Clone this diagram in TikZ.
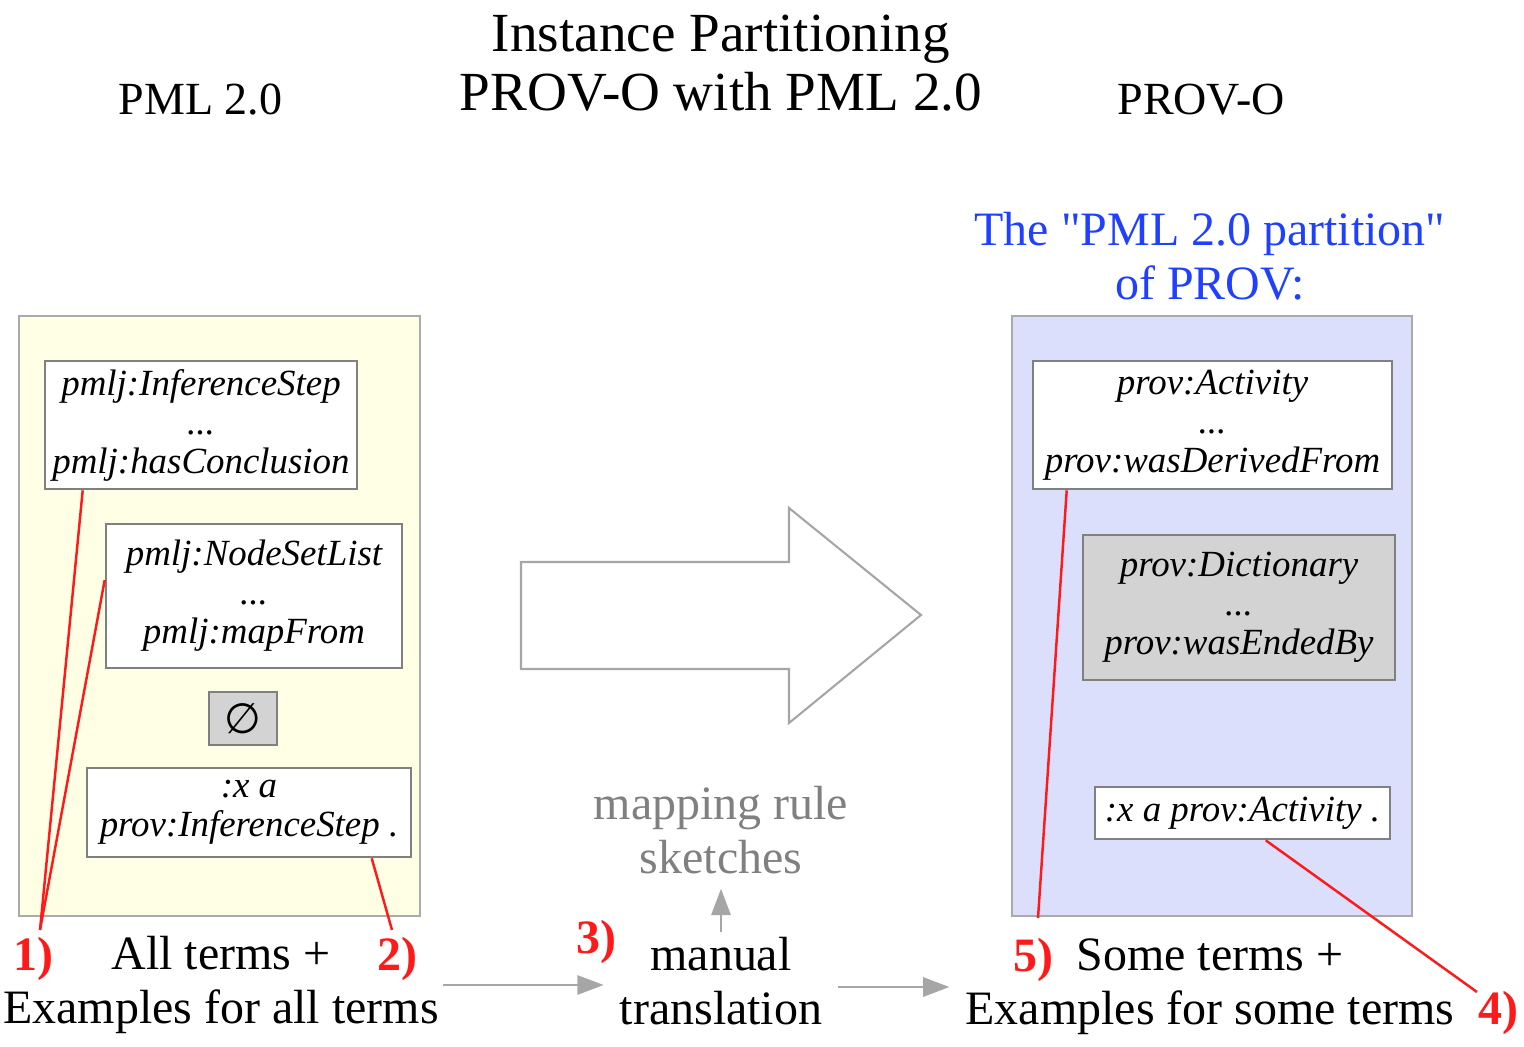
\documentclass[tikz,border=0pt]{standalone}
\usepackage{fontspec}
\setmainfont{Liberation Serif}
\newfontfamily\symfont{DejaVu Sans}
\usetikzlibrary{arrows.meta,calc}

\definecolor{pmlyellow}{RGB}{255,255,229}
\definecolor{provblue}{RGB}{220,223,252}
\definecolor{framegray}{RGB}{170,170,170}
\definecolor{boxgray}{RGB}{128,128,128}
\definecolor{fillgray}{RGB}{211,211,211}
\definecolor{arrowgray}{RGB}{166,166,166}
\definecolor{notered}{RGB}{255,26,26}
\definecolor{titleblue}{RGB}{32,64,255}

\newcommand{\pxu}{0.5690551pt}
\newcommand{\dq}{\XeTeXglyph\XeTeXcharglyph"22\relax}

\tikzset{
  panel/.style={draw=framegray,line width=1.3pt},
  term/.style={draw=boxgray,line width=1.5pt,fill=white,align=center,inner sep=0pt,
    font=\fontsize{21}{22.2}\selectfont\itshape},
  stage/.style={align=center,font=\fontsize{27.3}{30.7}\selectfont},
  numlabel/.style={anchor=base,text=notered,font=\fontsize{27.3}{30.7}\selectfont\bfseries},
  noteline/.style={draw=notered,line width=1.4pt},
  flow/.style={draw=arrowgray,line width=1.2pt,-{Triangle[length=15pt,width=11pt]}},
  bigarrow/.style={draw=arrowgray,line width=1.2pt,fill=white}
}

\begin{document}
\begin{tikzpicture}[x=0.02cm,y=-0.02cm]
\useasboundingbox (0,0) rectangle (1524,1047);

\node[stage,font=\fontsize{31.4}{33.5}\selectfont] (title) at (721,63) {Instance Partitioning\\PROV-O with PML 2.0};
\node[anchor=base,font=\fontsize{26.2}{28}\selectfont] (pmlhead) at (200.5,115) {PML 2.0};
\node[anchor=base,font=\fontsize{26.2}{28}\selectfont] (provhead) at (1201,115) {PROV-O};
\node[stage,text=titleblue] (partition) at (1210,256) {The \dq PML 2.0 partition\dq\\of PROV:};

\draw[panel,fill=pmlyellow] (19,316) rectangle (420,916);
\draw[panel,fill=provblue] (1012,316) rectangle (1412,916);

\node[term,minimum width=312*\pxu,minimum height=128*\pxu] (infstep) at (201,425) {pmlj:InferenceStep\\...\\pmlj:hasConclusion};
\node[term,minimum width=296*\pxu,minimum height=144*\pxu] (nodeset) at (254,596) {pmlj:NodeSetList\\...\\pmlj:mapFrom};
\node[term,fill=fillgray,minimum width=68*\pxu,minimum height=53*\pxu,font=\symfont\fontsize{24}{24}\selectfont] (nothing) at (243,718.5) {∅};
\node[term,minimum width=324*\pxu,minimum height=89*\pxu] (pmlexample) at (249,812.5) {:x a\\prov:InferenceStep .};

\node[term,minimum width=359*\pxu,minimum height=128*\pxu] (activity) at (1212.5,425) {prov:Activity\\...\\prov:wasDerivedFrom};
\node[term,fill=fillgray,minimum width=312*\pxu,minimum height=145*\pxu] (dictionary) at (1239,607.5) {prov:Dictionary\\...\\prov:wasEndedBy};
\node[term,minimum width=295*\pxu,minimum height=52*\pxu] (provexample) at (1242.5,813) {:x a prov:Activity .};

\draw[bigarrow] (521,562) -- (789,562) -- (789,508) -- (921,615) -- (789,723) -- (789,669) -- (521,669) -- cycle;

\node[stage,inner sep=2pt] (allterms) at (221,985) {All terms +\\Examples for all terms};
\node[stage,inner xsep=9pt,inner ysep=2.8pt] (manual) at (721,981) {manual\\translation};
\node[stage,text=boxgray,inner ysep=8pt] (sketches) at (721,830.5) {mapping rule\\sketches};
\node[stage,inner xsep=9pt] (someterms) at (1210,987) {Some terms +\\Examples for some terms};

\node[numlabel] (one) at (33.5,970) {1)};
\node[numlabel] (two) at (397,970) {2)};
\node[numlabel] (three) at (596,953) {3)};
\node[numlabel] (four) at (1498,1024) {4)};
\node[numlabel] (five) at (1033,971) {5)};

\coordinate (tipone) at (40,930);
\coordinate (tiptwo) at (392,930);
\coordinate (tipfour) at (1477,992);
\coordinate (tipfive) at (1038,918);

\draw[noteline] ($(infstep.south west)+(39,0)$) -- (tipone);
\draw[noteline] ($(nodeset.west)+(0,-16)$) -- (tipone);
\draw[noteline] ($(pmlexample.south west)+(286,0)$) -- (tiptwo);
\draw[noteline] ($(activity.south west)+(35,0)$) -- (tipfive);
\draw[noteline] ($(provexample.south west)+(172,0)$) -- (tipfour);

\draw[flow] (allterms.east) -- (allterms.east -| manual.west);
\draw[flow] (manual.north) -- (sketches.south);
\draw[flow] (someterms.west -| manual.east) -- (someterms.west);
\end{tikzpicture}
\end{document}
